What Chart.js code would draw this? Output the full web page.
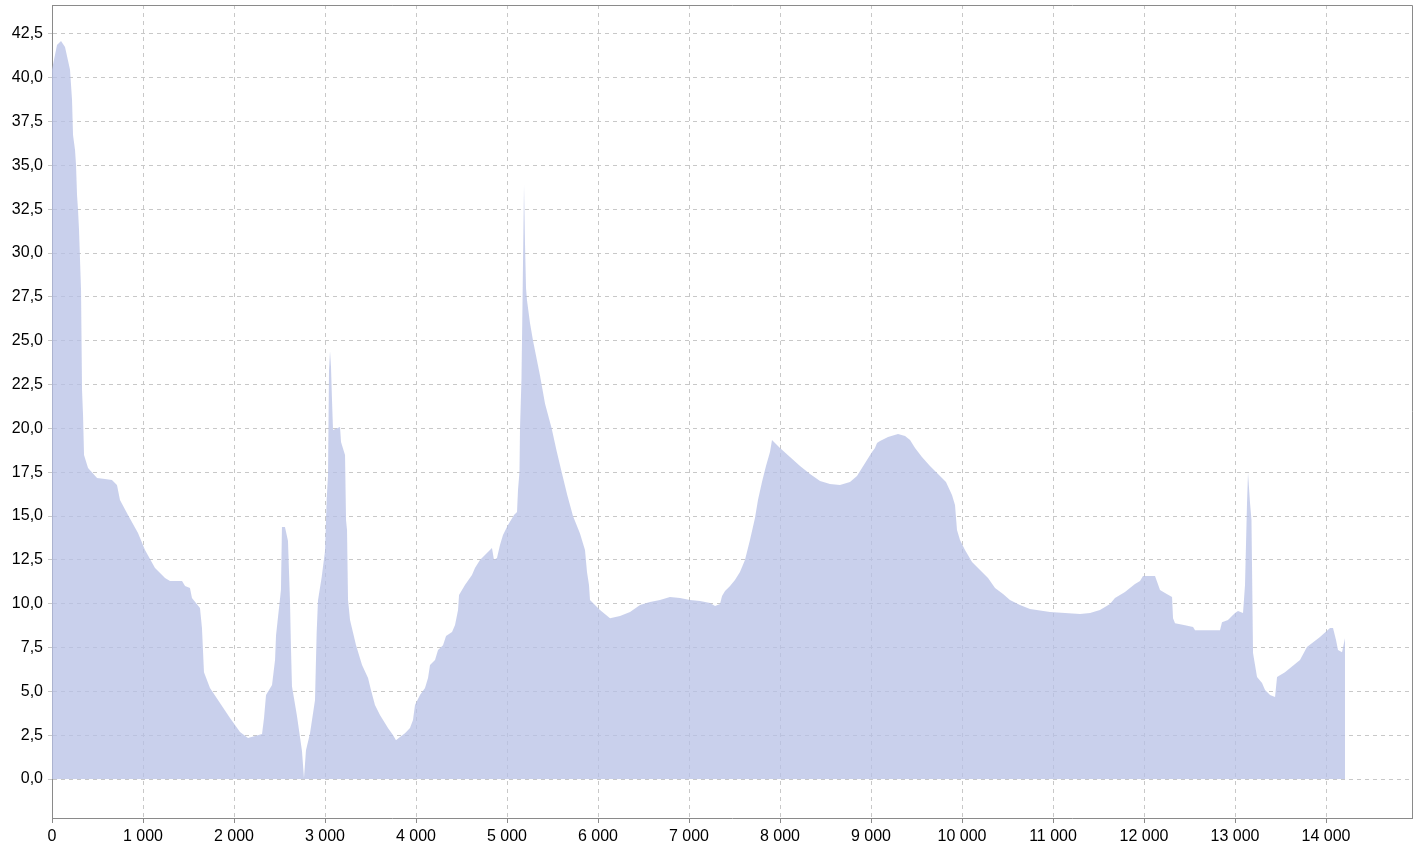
<!DOCTYPE html>
<html>
<head>
<meta charset="utf-8">
<script src="https://cdn.jsdelivr.net/npm/chart.js@4/dist/chart.umd.min.js"></script>
<style>
  html, body { margin: 0; padding: 0; background: #fff; }
  #wrap { width: 1419px; height: 851px; }
</style>
</head>
<body>
<div id="wrap"><canvas id="profile"></canvas></div>
<script>
// distance along the track and the value at that point
const distance = [
  0, 55, 99, 143, 198, 220, 231, 253, 264, 275, 286, 297, 319, 330, 341, 352,
  396, 495, 582, 659, 714, 747, 835, 945, 1022, 1132, 1242, 1297, 1429, 1462,
  1516, 1538, 1626, 1648, 1670, 1736, 1846, 1956, 2066, 2154, 2231, 2308, 2330,
  2352, 2418, 2451, 2462, 2516, 2527, 2560, 2593, 2615, 2626, 2637, 2692, 2747,
  2769, 2791, 2835, 2890, 2908, 2923, 2963, 3000, 3018, 3033, 3044, 3055, 3066,
  3077, 3088, 3165, 3176, 3220, 3231, 3242, 3253, 3275, 3341, 3407, 3473, 3505,
  3549, 3604, 3692, 3747, 3780, 3824, 3879, 3934, 3967, 3989, 4044, 4099, 4132,
  4154, 4209, 4242, 4297, 4330, 4396, 4429, 4462, 4473, 4538, 4615, 4648, 4703,
  4791, 4835, 4857, 4890, 4923, 4956, 5011, 5077, 5110, 5121, 5137, 5143, 5159,
  5170, 5176, 5187, 5198, 5209, 5220, 5253, 5286, 5363, 5418, 5491, 5546, 5601,
  5662, 5725, 5802, 5857, 5879, 5901, 5912, 5967, 6022, 6132, 6242, 6352, 6462,
  6571, 6681, 6791, 6901, 7011, 7121, 7231, 7286, 7341, 7363, 7396, 7451, 7505,
  7560, 7615, 7670, 7725, 7758, 7802, 7846, 7890, 7912, 7945, 8000, 8110, 8220,
  8330, 8440, 8549, 8659, 8769, 8846, 8901, 8956, 9011, 9044, 9066, 9099, 9187,
  9297, 9374, 9429, 9484, 9560, 9648, 9736, 9824, 9890, 9923, 9945, 9978, 10033,
  10110, 10198, 10286, 10363, 10451, 10527, 10637, 10747, 10967, 11297, 11407,
  11516, 11626, 11681, 11791, 11901, 11956, 11989, 12121, 12176, 12231, 12308,
  12319, 12341, 12451, 12539, 12561, 12835, 12857, 12923, 13000, 13033, 13088,
  13110, 13132, 13143, 13165, 13181, 13198, 13242, 13297, 13330, 13385, 13440,
  13462, 13549, 13714, 13791, 13934, 14044, 14077, 14110, 14132, 14176, 14209
];
const values = [
  40.45, 41.87, 42.1, 41.76, 40.45, 38.74, 36.74, 35.88, 35.03, 33.32, 32.46,
  31.32, 27.9, 22.19, 20.77, 18.49, 17.74, 17.17, 17.11, 17.06, 16.77, 15.92,
  15.06, 14.03, 13.06, 12.04, 11.47, 11.3, 11.3, 11.01, 10.9, 10.33, 9.76, 8.61,
  6.1, 5.19, 4.34, 3.48, 2.68, 2.34, 2.45, 2.57, 3.48, 4.79, 5.36, 6.79, 8.21,
  10.78, 14.38, 14.38, 13.6, 10.2, 7.5, 5.3, 3.6, 1.6, 0.05, 1.65, 2.6, 4.5, 8.3,
  10.2, 11.5, 13.0, 15.9, 17.3, 23.3, 24.4, 23.5, 21.6, 19.91, 20.08, 19.23,
  18.48, 14.77, 14.2, 10.21, 9.07, 7.64, 6.5, 5.76, 5.08, 4.22, 3.65, 2.91, 2.51,
  2.22, 2.4, 2.62, 2.91, 3.37, 4.22, 4.79, 5.19, 5.76, 6.5, 6.79, 7.36, 7.64,
  8.16, 8.39, 8.79, 9.64, 10.5, 11.07, 11.64, 12.04, 12.49, 12.95, 13.18, 12.49,
  12.61, 13.35, 13.92, 14.49, 15.06, 15.23, 16.5, 17.5, 20.0, 22.8, 27.0, 29.5,
  33.9, 30.5, 28.0, 27.3, 26.0, 25.0, 23.0, 21.4, 20.0, 18.7, 17.5, 16.2, 15.0,
  14.0, 13.06, 11.81, 11.07, 10.21, 9.93, 9.64, 9.18, 9.3, 9.53, 9.93, 10.1,
  10.21, 10.38, 10.33, 10.21, 10.15, 10.04, 9.87, 9.98, 10.44, 10.72, 11.01,
  11.35, 11.81, 12.49, 13.63, 14.89, 15.92, 16.94, 17.86, 18.65, 19.34, 19.17,
  18.88, 18.37, 17.86, 17.4, 17.0, 16.83, 16.77, 16.94, 17.28, 17.74, 18.2,
  18.65, 18.88, 19.17, 19.28, 19.51, 19.68, 19.57, 19.34, 18.88, 18.37, 17.86,
  17.4, 16.94, 16.2, 15.63, 14.2, 13.63, 13.06, 12.38, 11.92, 11.47, 10.9, 10.55,
  10.21, 9.93, 9.7, 9.53, 9.41, 9.47, 9.64, 9.98, 10.33, 10.67, 11.12, 11.3,
  11.58, 11.58, 10.78, 10.61, 10.38, 9.18, 8.89, 8.78, 8.67, 8.49, 8.49, 8.95,
  9.07, 9.47, 9.58, 9.47, 11.07, 15.74, 17.46, 15.74, 14.77, 7.19, 5.82, 5.48,
  5.08, 4.79, 4.68, 5.82, 6.1, 6.79, 7.53, 8.1, 8.61, 8.61, 7.93, 7.36, 7.24, 8.04
];

const xTicks = [0, 1000, 2000, 3000, 4000, 5000, 6000, 7000, 8000, 9000, 10000, 11000, 12000, 13000, 14000];
const yTicks = [0, 2.5, 5, 7.5, 10, 12.5, 15, 17.5, 20, 22.5, 25, 27.5, 30, 32.5, 35, 37.5, 40, 42.5];

const points = distance.map((d, i) => ({ x: d, y: values[i] }));

const fmtX = (v) => String(v).replace(/\B(?=(\d{3})+(?!\d))/g, " ");
const fmtY = (v) => v.toFixed(1).replace(".", ",");

// top and right edges of the plot frame
const frame = {
  id: "frame",
  afterDraw(chart) {
    const { ctx, chartArea: a } = chart;
    ctx.save();
    ctx.strokeStyle = "#8a8a8a";
    ctx.lineWidth = 1;
    ctx.beginPath();
    ctx.moveTo(a.left, a.top + 0.5);
    ctx.lineTo(a.right + 0.5, a.top + 0.5);
    ctx.lineTo(a.right + 0.5, a.bottom);
    ctx.stroke();
    ctx.restore();
  },
};

const tickFont = { family: "'Liberation Sans', Arial, sans-serif", size: 16 };

new Chart(document.getElementById("profile"), {
  type: "line",
  data: {
    datasets: [
      {
        data: points,
        fill: "origin",
        backgroundColor: "rgba(183, 192, 230, 0.75)",
        borderColor: "rgba(0,0,0,0)",
        borderWidth: 0,
        pointRadius: 0,
        tension: 0,
      },
    ],
  },
  options: {
    responsive: true,
    maintainAspectRatio: false,
    animation: false,
    events: [],
    layout: { padding: { top: 5, right: 7, left: 0, bottom: 0 } },
    plugins: { legend: { display: false }, tooltip: { enabled: false } },
    scales: {
      x: {
        type: "linear",
        min: 0,
        max: 14945,
        afterBuildTicks: (scale) => {
          scale.ticks = xTicks.map((v) => ({ value: v }));
        },
        afterFit: (scale) => {
          scale.height = 33;
          scale.paddingLeft = 0;
          scale.paddingRight = 0;
        },
        grid: { color: "#c8c8c8", tickColor: "#8a8a8a", tickLength: 5 },
        border: { color: "#8a8a8a", dash: [4, 4] },
        ticks: {
          color: "#000",
          font: tickFont,
          padding: 4,
          maxRotation: 0,
          autoSkip: false,
          callback: (v) => fmtX(v),
        },
      },
      y: {
        min: -2.22,
        max: 44.15,
        afterBuildTicks: (scale) => {
          scale.ticks = yTicks.map((v) => ({ value: v }));
        },
        afterFit: (scale) => {
          scale.width = 52;
          scale.paddingTop = 0;
          scale.paddingBottom = 0;
        },
        grid: { color: "#c8c8c8", tickColor: "#c8c8c8", tickLength: 4 },
        border: { color: "#8a8a8a", dash: [4, 4] },
        ticks: {
          color: "#000",
          font: tickFont,
          padding: 5,
          autoSkip: false,
          callback: (v) => fmtY(v),
        },
      },
    },
  },
  plugins: [frame],
});
</script>
</body>
</html>
